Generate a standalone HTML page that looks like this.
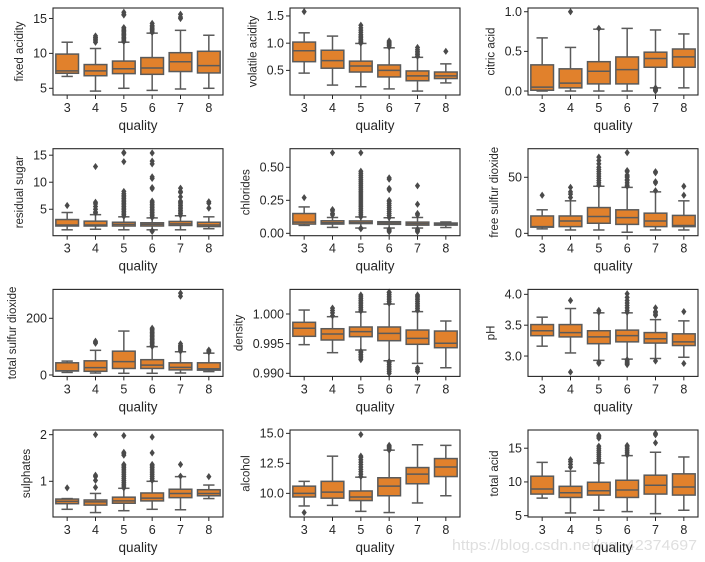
<!DOCTYPE html>
<html><head><meta charset="utf-8">
<style>
html,body{margin:0;padding:0;background:#fff;}
svg{display:block;font-family:"Liberation Sans","DejaVu Sans",sans-serif;}
</style></head>
<body>
<svg id="chart" width="705" height="562" viewBox="0 0 705 562" xmlns="http://www.w3.org/2000/svg">
<text x="452" y="550" font-size="15" textLength="245" lengthAdjust="spacingAndGlyphs" fill="#d9d9d9" fill-opacity="0.85">https://blog.csdn.net/qq_42374697</text>
</svg>
<script>
const categories = ["3","4","5","6","7","8"];
const panelNames = ["fixed acidity","volatile acidity","citric acid","residual sugar","chlorides","free sulfur dioxide","total sulfur dioxide","density","pH","sulphates","alcohol","total acid"];
const yMin = [4.04,0.048,-0.05,0.11,-0.018,-2.1,-5,0.98948,2.67,0.235,8.03,4.8];
const yMax = [16.5,1.646,1.047,16.2,0.641,75.5,302,1.00415,4.08,2.1,15.28,17.7];
const tickVals = [[5,10,15],[0.5,1.0,1.5],[0,0.5,1.0],[5,10,15],[0,0.25,0.5],[0,50],[0,200],[0.990,0.995,1.000],[3.0,3.5,4.0],[1,2],[10,12.5,15],[5,10,15]];
const tickLabels = [["5","10","15"],["0.5","1.0","1.5"],["0.0","0.5","1.0"],["5","10","15"],["0.00","0.25","0.50"],["0","50"],["0","200"],["0.990","0.995","1.000"],["3.0","3.5","4.0"],["1","2"],["10.0","12.5","15.0"],["5","10","15"]];
// per panel, per category: [whiskerLow, q1, median, q3, whiskerHigh]
const stats = [
 [[6.7,7.15,7.5,9.9,11.6],[4.6,6.8,7.5,8.4,10.7],[5.0,7.1,7.8,8.9,11.6],[4.7,7.0,7.9,9.4,12.9],[4.9,7.4,8.8,10.1,13.3],[5.0,7.2,8.25,10.3,12.6]],
 [[0.45,0.66,0.86,1.02,1.19],[0.23,0.54,0.68,0.87,1.13],[0.2,0.47,0.58,0.67,0.995],[0.16,0.38,0.5,0.6,0.915],[0.12,0.31,0.4,0.49,0.74],[0.27,0.35,0.4,0.47,0.62]],
 [[0,0.01,0.05,0.33,0.67],[0,0.04,0.1,0.28,0.55],[0,0.09,0.25,0.37,0.78],[0,0.09,0.27,0.43,0.79],[0.04,0.3,0.41,0.49,0.77],[0.04,0.3,0.43,0.53,0.72]],
 [[1.2,1.9,2.1,3.1,4.4],[1.3,1.9,2.1,2.8,4.0],[1.2,1.9,2.2,2.6,3.6],[1.2,1.9,2.2,2.5,3.4],[1.2,2.0,2.3,2.75,3.8],[1.4,1.8,2.1,2.6,3.6]],
 [[0.06,0.07,0.085,0.15,0.2],[0.045,0.07,0.08,0.095,0.12],[0.04,0.074,0.081,0.094,0.124],[0.04,0.068,0.078,0.088,0.118],[0.04,0.062,0.073,0.085,0.12],[0.044,0.062,0.07,0.078,0.086]],
 [[4,5.5,6,15.5,21],[3,6,11,15.5,29],[3,9,15,23,42],[1,8,14,21,41],[3,6,11,18,37],[3,6,7,16,29]],
 [[9,14,15,43,49],[7,13,26,50,87],[6,23,47,84,155],[6,23,35,54,100],[7,18,27,43,82],[12,17,22,43,77]],
 [[0.99483,0.99624,0.99759,0.9986,1.00067],[0.99348,0.99562,0.99663,0.99752,0.99955],[0.99393,0.99618,0.99702,0.99781,1.00034],[0.99212,0.9955,0.99674,0.99781,1.00168],[0.99168,0.99489,0.9959,0.9973,1.0004],[0.99094,0.99432,0.99506,0.99713,0.99882]],
 [[3.16,3.33,3.41,3.51,3.63],[3.05,3.31,3.38,3.51,3.77],[2.93,3.2,3.31,3.41,3.7],[2.95,3.23,3.33,3.42,3.7],[2.96,3.21,3.28,3.38,3.59],[2.98,3.17,3.23,3.36,3.57]],
 [[0.40,0.52,0.57,0.62,0.63],[0.33,0.49,0.56,0.60,0.74],[0.37,0.53,0.58,0.66,0.85],[0.40,0.58,0.64,0.75,1.0],[0.39,0.65,0.74,0.83,1.10],[0.63,0.69,0.74,0.82,0.92]],
 [[8.95,9.7,10.0,10.6,11.0],[9.0,9.6,10.1,11.0,13.1],[8.5,9.4,9.7,10.2,11.35],[8.4,9.8,10.6,11.3,13.6],[9.2,10.8,11.6,12.15,14.05],[9.8,11.4,12.2,12.9,14.0]],
 [[7.6,8.2,8.95,10.85,12.9],[5.4,7.7,8.4,9.35,11.6],[5.8,8.05,8.7,9.95,12.8],[5.6,7.7,8.8,10.25,13.9],[5.3,8.2,9.5,11.0,14.4],[5.8,8.05,9.25,11.2,13.7]]
];
const outliers = [
 [[],[11.6,11.8,12.0,12.2,12.3,12.5],[11.7,11.9,12.1,12.3,12.5,12.7,12.9,13.1,13.3,13.5,13.7,15.5,15.6,15.9],[13.0,13.2,13.4,13.6,13.8,14.0,14.3],[15.0,15.2,15.6],[]],
 [[1.58],[],[1.0,1.02,1.04,1.07,1.1,1.13,1.16,1.2,1.24,1.28,1.33],[0.93,0.96,0.98,1.0,1.02,1.04],[0.76,0.79,0.82,0.85,0.88,0.92],[0.85]],
 [[],[1.0],[0.79],[],[0,0.01,0.02,0.03,0.04],[]],
 [[5.7],[4.3,4.5,5.0,5.5,6.0,6.3,12.9],[3.7,4.0,4.3,4.6,4.9,5.2,5.5,5.8,6.1,6.4,6.7,7.0,7.3,7.6,7.9,8.3,13.8,15.4,15.5],[0.9,1.0,3.5,3.8,4.1,4.4,4.7,5.0,5.3,5.6,5.9,6.2,6.5,8.8,9.0,10.7,11.0,13.4,13.9,15.4],[3.9,4.2,4.5,4.8,5.1,5.4,5.7,6.0,6.3,6.5,7.3,8.1,8.3,8.9],[5.2,6.1,6.4]],
 [[0.27],[0.14,0.15,0.17,0.18,0.61],[0.034,0.039,0.125,0.14,0.155,0.17,0.185,0.2,0.215,0.23,0.245,0.26,0.275,0.29,0.305,0.32,0.335,0.35,0.365,0.38,0.395,0.41,0.425,0.44,0.455,0.47,0.61],[0.012,0.02,0.03,0.12,0.135,0.15,0.165,0.18,0.195,0.21,0.225,0.24,0.25,0.33,0.34,0.41,0.42],[0.012,0.02,0.03,0.14,0.15,0.22,0.36],[]],
 [[34],[32,35,37,41],[43,45,47,49,51,53,55,57,59,62,65,68],[42,43,45,47,48,50,51,52,55,56,72],[38,45,46,54,55],[34,42]],
 [[],[112,115,119],[],[101,105,110,115,120,125,130,135,140,145,150,155,160,165],[84,88,92,96,100,104,110,278,289],[81,85,88]],
 [[],[0.9997,1.0002,1.0006,1.001],[0.9923,0.9926,0.9929,0.9932,0.9935,0.9937,1.0005,1.0008,1.0011,1.0014,1.0017,1.002,1.0023,1.0026,1.0029,1.0032],[0.99,0.9903,0.9906,0.9909,0.9912,0.9915,0.9918,0.992,1.0018,1.0021,1.0024,1.0027,1.003,1.0033,1.0036,1.0037],[0.9903,0.9906,0.9909,1.0006,1.0009,1.0012,1.0015,1.0018,1.0021,1.0024,1.0027,1.003,1.0032],[]],
 [[],[3.9,2.74],[3.71,3.74,2.88,2.9],[3.71,3.74,3.78,3.82,3.86,3.9,3.95,4.01,2.86,2.88,2.9,2.92,2.94],[3.66,3.68,3.71,3.72,3.78,2.92],[3.72,2.88]],
 [[0.86],[0.87,1.02,1.10,1.13,2.0],[0.86,0.9,0.94,0.98,1.02,1.06,1.1,1.14,1.18,1.22,1.26,1.3,1.33,1.36,1.56,1.59,1.62,1.98],[1.02,1.06,1.1,1.14,1.18,1.22,1.26,1.3,1.33,1.36,1.61,1.95],[1.11,1.36],[1.1]],
 [[8.4],[],[11.4,11.6,11.8,12.0,12.2,12.4,12.6,12.8,13.0,13.1,14.9],[13.6,13.7,13.8,13.9,14.0],[],[]],
 [[],[12.2,12.6,13.0,13.3],[12.9,13.2,13.5,13.8,14.1,14.4,14.7,15.0,15.3,16.5,16.7,16.9],[14.0,14.3,14.6,14.9,15.2,15.4],[15.8,17.0,17.2],[]]
];

const NS = "http://www.w3.org/2000/svg";
const svg = document.getElementById("chart");
const colLeft = [53, 290, 528], rowTop = [8, 148.7, 289.4, 430];
const PW = 170, PH = 87;
const LINE = "#5a5a5a", FILL = "#e1812c", TXT = "#262626";
function mk(tag, attrs, parent) {
  const e = document.createElementNS(NS, tag);
  for (const k in attrs) e.setAttribute(k, attrs[k]);
  parent.appendChild(e);
  return e;
}
panelNames.forEach((name, p) => {
  const L = colLeft[p % 3], T = rowTop[Math.floor(p / 3)];
  const slug = name.replace(/\s+/g, "-").toLowerCase();
  const g = mk("g", {}, svg);
  
  
  const ys = v => T + PH - (v - yMin[p]) / (yMax[p] - yMin[p]) * PH;
  const step = PW / categories.length;
  const xs = i => L + (i + 0.5) * step;
  const bw = step * 0.8;
  categories.forEach((c, i) => {
    const s = stats[p][i];
    const bg = mk("g", {}, g);
    
    
    const x = xs(i);
    mk("line", {x1: x, x2: x, y1: ys(s[0]), y2: ys(s[1]), stroke: LINE, "stroke-width": 1.5}, bg);
    mk("line", {x1: x, x2: x, y1: ys(s[3]), y2: ys(s[4]), stroke: LINE, "stroke-width": 1.5}, bg);
    mk("line", {x1: x - bw / 4, x2: x + bw / 4, y1: ys(s[0]), y2: ys(s[0]), stroke: LINE, "stroke-width": 1.5}, bg);
    mk("line", {x1: x - bw / 4, x2: x + bw / 4, y1: ys(s[4]), y2: ys(s[4]), stroke: LINE, "stroke-width": 1.5}, bg);
    mk("rect", {x: x - bw / 2, y: ys(s[3]), width: bw, height: Math.max(0.5, ys(s[1]) - ys(s[3])), fill: FILL, stroke: LINE, "stroke-width": 1.5}, bg);
    mk("line", {x1: x - bw / 2, x2: x + bw / 2, y1: ys(s[2]), y2: ys(s[2]), stroke: LINE, "stroke-width": 1.5}, bg);
    outliers[p][i].forEach(v => {
      const y = ys(v);
      const d = mk("polygon", {points: `${x},${y - 3.6} ${x + 2.6},${y} ${x},${y + 3.6} ${x - 2.6},${y}`, fill: "#4a4a4a"}, bg);
      
      
    });
  });
  const fr = mk("rect", {x: L, y: T, width: PW, height: PH, fill: "none", stroke: "#262626", "stroke-width": 1.1}, g);
  
  
  categories.forEach((c, i) => {
    const x = xs(i);
    mk("line", {x1: x, x2: x, y1: T + PH, y2: T + PH + 4, stroke: "#262626", "stroke-width": 1}, g);
    const t = mk("text", {x: x, y: T + PH + 17, "font-size": 12.5, fill: TXT, "text-anchor": "middle"}, g);
    t.textContent = c;
    
    
  });
  const xl = mk("text", {x: L + PW / 2, y: T + PH + 35, "font-size": 13.5, fill: TXT, "text-anchor": "middle"}, g);
  xl.textContent = "quality";
  
  
  let maxW = 0;
  tickVals[p].forEach((v, k) => {
    const y = ys(v);
    mk("line", {x1: L - 4, x2: L, y1: y, y2: y, stroke: "#262626", "stroke-width": 1}, g);
    const t = mk("text", {x: L - 6, y: y + 4.3, "font-size": 12.5, fill: TXT, "text-anchor": "end"}, g);
    t.textContent = tickLabels[p][k];
    
    
    maxW = Math.max(maxW, t.getComputedTextLength());
  });
  const lx = L - 6 - maxW - 10;
  const yl = mk("text", {x: lx, y: T + PH / 2, "font-size": 11.5, fill: TXT, "text-anchor": "middle", transform: `rotate(-90 ${lx} ${T + PH / 2})`}, g);
  yl.textContent = name;
  
  
});
</script>
</body></html>
